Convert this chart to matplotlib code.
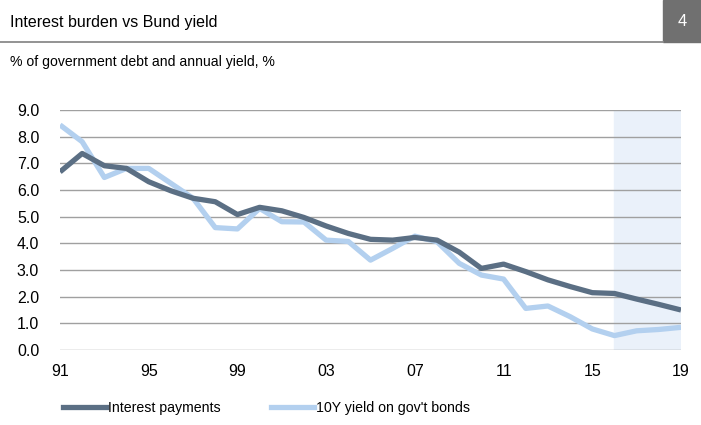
import numpy as np
import matplotlib.pyplot as plt
from matplotlib.lines import Line2D

plt.rcParams['font.family'] = ['Liberation Sans', 'DejaVu Sans']

# datos
anios = np.arange(1991, 2020)
interes = [6.68, 7.37, 6.91, 6.81, 6.31, 5.97, 5.69, 5.56, 5.08, 5.35,
           5.22, 4.97, 4.65, 4.37, 4.15, 4.12, 4.22, 4.12, 3.67, 3.06,
           3.22, 2.94, 2.63, 2.38, 2.15, 2.12, 1.91, 1.71, 1.50]
rendimiento = [8.44, 7.81, 6.47, 6.81, 6.81, 6.25, 5.69, 4.59, 4.54, 5.31,
               4.81, 4.80, 4.12, 4.07, 3.37, 3.81, 4.27, 4.06, 3.25, 2.81,
               2.66, 1.56, 1.65, 1.25, 0.79, 0.54, 0.72, 0.77, 0.85]
ticks_x = [1991, 1995, 1999, 2003, 2007, 2011, 2015, 2019]
etiquetas_x = ['91', '95', '99', '03', '07', '11', '15', '19']
ticks_y = np.arange(0, 10, 1.0)

oscuro = '#5b6f84'
claro = '#b3d0ef'

fig = plt.figure(figsize=(7.01, 4.25), dpi=100)
ax = fig.add_axes([60 / 701, 75 / 425, 621 / 701, 240 / 425])

ax.axvspan(2016, 2019, color='#eaf1fa', zorder=0)
for v in ticks_y:
    ax.axhline(v, color='#a0a0a0', lw=1.0, zorder=1)

ax.plot(anios, interes, color=oscuro, lw=3.8, zorder=3, solid_capstyle='butt')
ax.plot(anios, rendimiento, color=claro, lw=3.8, zorder=2, solid_capstyle='butt')

ax.set_xlim(1991, 2019)
ax.set_ylim(0, 9)
ax.set_yticks(ticks_y)
ax.set_yticklabels([f'{v:.1f}' for v in ticks_y])
ax.set_xticks(ticks_x)
ax.set_xticklabels(etiquetas_x)
ax.tick_params(axis='both', length=0, labelsize=11.5, colors='black')
ax.tick_params(axis='x', pad=10)
ax.tick_params(axis='y', pad=15)
for s in ax.spines.values():
    s.set_visible(False)

# encabezado
fig.text(10 / 701, 1 - 22 / 425, 'Interest burden vs Bund yield', fontsize=11.5,
         va='center', ha='left')
fig.add_artist(Line2D([0, 663 / 701], [1 - 41.5 / 425] * 2, color='#8a8a8a', lw=1.3))
fig.patches.append(plt.Rectangle((663 / 701, 1 - 42 / 425), 38 / 701, 42 / 425,
                                 transform=fig.transFigure, color='#707070'))
fig.text(682 / 701, 1 - 21 / 425, '4', fontsize=12, color='white',
         va='center', ha='center')
fig.text(10 / 701, 1 - 62 / 425, '% of government debt and annual yield, %',
         fontsize=10.1, va='center', ha='left')

# leyenda
h1 = Line2D([], [], color=oscuro, lw=3.8)
h2 = Line2D([], [], color=claro, lw=3.8)
fig.legend([h1, h2], ['Interest payments', "10Y yield on gov't bonds"],
           loc='center left', bbox_to_anchor=(63 / 701, 1 - 408 / 425), ncol=2,
           frameon=False, fontsize=10.2, handlelength=3.0, handletextpad=0.15,
           columnspacing=3.6, borderpad=0, borderaxespad=0)

fig.savefig('out.png', dpi=100)
